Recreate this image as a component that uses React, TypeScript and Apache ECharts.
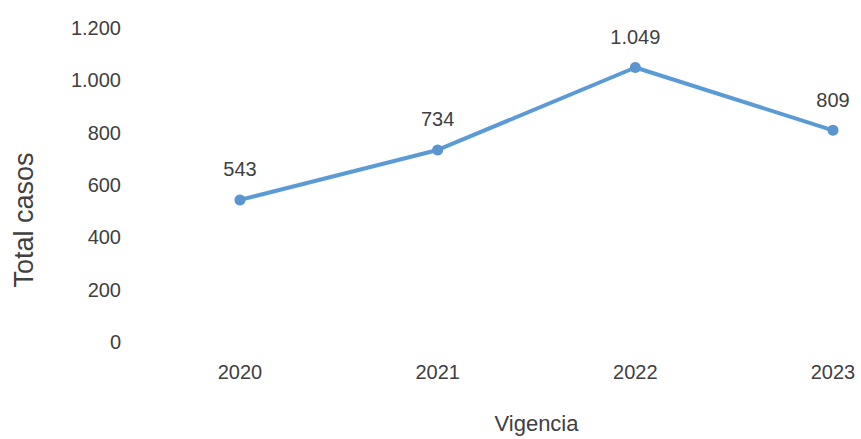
import React, { useEffect, useRef } from "react";
import * as echarts from "echarts";

const years = ["2020", "2021", "2022", "2023"];
const totalCasos = [543, 734, 1049, 809];
const yTicks = { min: 0, max: 1200, interval: 200 };
const yTitle = "Total casos";
const xTitle = "Vigencia";

const fmt = (v: number) => String(v).replace(/\B(?=(\d{3})+(?!\d))/g, ".");

export default function App() {
  const ref = useRef<HTMLDivElement>(null);
  useEffect(() => {
    if (!ref.current) return;
    const chart = echarts.init(ref.current, undefined, { renderer: "svg" });
    const font = "'Liberation Sans', Arial, sans-serif";
    const textColor = "#404040";
    chart.setOption({
      animation: false,
      backgroundColor: "#ffffff",
      textStyle: { fontFamily: font },
      grid: { left: 240, right: 28, top: 28, bottom: 89 },
      xAxis: {
        type: "category",
        data: years,
        boundaryGap: false,
        axisLine: { show: false },
        axisTick: { show: false },
        axisLabel: { color: textColor, fontSize: 20, margin: 20, fontFamily: font },
        name: xTitle,
        nameLocation: "middle",
        nameGap: 70,
        nameTextStyle: { color: textColor, fontSize: 22, fontFamily: font },
      },
      yAxis: {
        type: "value",
        min: yTicks.min,
        max: yTicks.max,
        interval: yTicks.interval,
        axisLine: { show: false },
        axisTick: { show: false },
        splitLine: { show: false },
        axisLabel: {
          color: textColor,
          fontSize: 20,
          margin: 119,
          fontFamily: font,
          formatter: (v: number) => fmt(v),
        },
      },
      graphic: [
        {
          type: "text",
          x: 24,
          y: 220,
          rotation: Math.PI / 2,
          style: {
            text: yTitle,
            fill: textColor,
            font: `27px ${font}`,
            align: "center",
            verticalAlign: "middle",
          },
        },
      ],
      series: [
        {
          type: "line",
          data: totalCasos,
          symbol: "circle",
          symbolSize: 11,
          lineStyle: { color: "#5b9bd5", width: 4 },
          itemStyle: { color: "#5b95d0" },
          label: {
            show: true,
            position: "top",
            distance: 15,
            color: textColor,
            fontSize: 20,
            fontFamily: font,
            formatter: (p: any) => fmt(p.value),
          },
        },
      ],
    });
    return () => chart.dispose();
  }, []);
  return <div ref={ref} style={{ width: 861, height: 439, position: "absolute", left: 0, top: 0 }} />;
}
